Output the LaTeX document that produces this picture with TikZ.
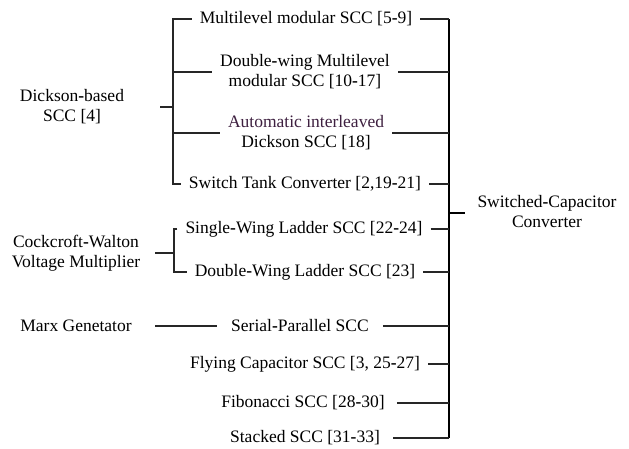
\documentclass[tikz,border=0pt]{standalone}
\usepackage{fontspec}
\setmainfont{Liberation Serif}
\newcommand\hy{\textbf{-}}
\definecolor{purp}{RGB}{62,32,64}
\tikzset{
  lbl/.style={font=\fontsize{17.5}{20}\selectfont, align=center, inner xsep=8pt, inner ysep=2pt},
  stub/.style={line width=1.3pt, draw=black!85},
  bus/.style={line width=1.9pt, draw=black},
}
\begin{document}
\begin{tikzpicture}[x=1pt,y=1pt]
\useasboundingbox (0,0) rectangle (629,-449);
% right-hand items
\node[lbl] (m1) at (306,-19) {Multilevel modular SCC [5\hy9]};
\node[lbl] (m2) at (305,-72) {Double\hy wing Multilevel\\modular SCC [10\hy17]};
\node[lbl] (m3) at (306,-133) {\textcolor{purp}{Automatic interleaved}\\Dickson SCC [18]};
\node[lbl] (m4) at (305,-184) {Switch Tank Converter [2,19\hy21]};
\node[lbl] (m5) at (304,-229) {Single\hy Wing Ladder SCC [22\hy24]};
\node[lbl] (m6) at (305,-272) {Double\hy Wing Ladder SCC [23]};
\node[lbl, inner xsep=14pt] (m7) at (300,-326) {Serial\hy Parallel SCC};
\node[lbl] (m8) at (305,-364) {Flying Capacitor SCC [3, 25\hy27]};
\node[lbl, inner xsep=12pt] (m9) at (303,-403) {Fibonacci SCC [28\hy30]};
\node[lbl, inner xsep=13pt] (m10) at (305,-438) {Stacked SCC [31\hy33]};
% root
\node[lbl, inner xsep=12pt] (scc) at (547,-212) {Switched\hy Capacitor\\Converter};
% left items
\node[lbl, minimum width=176pt] (dick) at (72,-107) {Dickson\hy based\\SCC [4]};
\node[lbl, minimum width=158pt] (cw) at (76,-253) {Cockcroft\hy Walton\\Voltage Multiplier};
\node[lbl, minimum width=158pt] (marx) at (76,-326) {Marx Genetator};
% main bus
\coordinate (busT) at (449,-19);
\coordinate (busB) at (449,-438);
\coordinate (busS) at (449,-213);
\draw[bus] (busT) -- (busB);
\draw[bus] (busS) -- (scc.west |- busS);
\foreach \n in {m1,m2,m3,m4,m5,m6,m7,m8,m9,m10}
  \draw[stub] (\n.east) -- (\n.east -| busT);
% Dickson tree
\coordinate (dT) at (173,-19);
\coordinate (dB) at (173,-184);
\coordinate (dJ) at (173,-107);
\draw[stub] (m1.west) -- (dT) -- (dB) -- (m4.west);
\draw[stub] (dT |- m2.west) -- (m2.west);
\draw[stub] (dT |- m3.west) -- (m3.west);
\draw[stub] (dick.east) -- (dJ);
% Cockcroft tree
\coordinate (cT) at (174,-229);
\coordinate (cB) at (174,-272);
\coordinate (cJ) at (174,-253);
\draw[stub] (m5.west) -- (cT) -- (cB) -- (m6.west);
\draw[stub] (cw.east) -- (cJ);
% Marx
\draw[stub] (marx.east) -- (m7.west);
\end{tikzpicture}
\end{document}
